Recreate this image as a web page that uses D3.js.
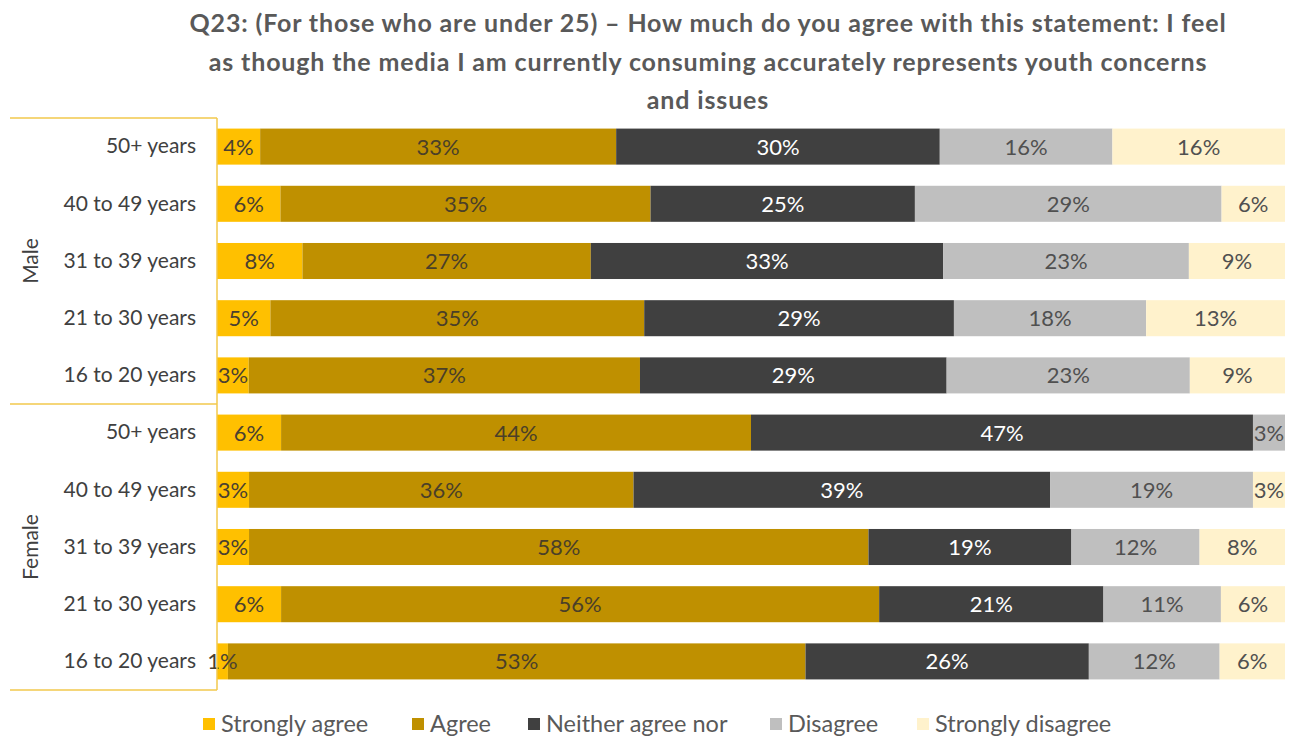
<!DOCTYPE html>
<html>
<head>
<meta charset="utf-8">
<script src="https://cdn.jsdelivr.net/npm/d3@7"></script>
<style>
  html, body { margin: 0; padding: 0; background: #fff; }
  svg { display: block; }
  text { font-family: Lato, "Open Sans", sans-serif; }
</style>
</head>
<body>
<svg id="chart" width="1293" height="740"></svg>
<script>
// Survey responses by gender and age band (percent of respondents)
const titleLines = [
  "Q23: (For those who are under 25) \u2013 How much do you agree with this statement: I feel",
  "as though the media I am currently consuming accurately represents youth concerns",
  "and issues"
];
const groups = ["Male", "Female"];
const ageBands = ["50+ years", "40 to 49 years", "31 to 39 years", "21 to 30 years", "16 to 20 years"];
const seriesNames = ["Strongly agree", "Agree", "Neither agree nor", "Disagree", "Strongly disagree"];
const seriesColors = ["#FFC000", "#BF9000", "#404040", "#BFBFBF", "#FFF2CC"];
const labelColors = ["#4a4030", "#4a3f28", "#ffffff", "#505050", "#505050"];

const stronglyAgree    = [4, 6, 8, 5, 3,   6, 3, 3, 6, 1];
const agree            = [33, 35, 27, 35, 37,   44, 36, 58, 56, 53];
const neither          = [30, 25, 33, 29, 29,   47, 39, 19, 21, 26];
const disagree         = [16, 29, 23, 18, 23,   3, 19, 12, 11, 12];
const stronglyDisagree = [16, 6, 9, 13, 9,   0, 3, 8, 6, 6];

const seriesValues = [stronglyAgree, agree, neither, disagree, stronglyDisagree];

// Build rows: one per gender/age combination
const rows = [];
groups.forEach((g, gi) => {
  ageBands.forEach((a, ai) => {
    const idx = gi * ageBands.length + ai;
    const row = { key: g + "|" + a, group: g, age: a };
    seriesNames.forEach((s, si) => { row[s] = seriesValues[si][idx]; });
    rows.push(row);
  });
});

const svg = d3.select("#chart");
const plotLeft = 217, plotRight = 1285;
const plotTop = 118, plotBottom = 690;

// 100% stacked layout
const stack = d3.stack().keys(seriesNames).offset(d3.stackOffsetExpand);
const stacked = stack(rows);

const x = d3.scaleLinear().domain([0, 1]).range([plotLeft, plotRight]);
const y = d3.scaleBand().domain(rows.map(r => r.key)).range([plotTop, plotBottom]).paddingInner(0.37).paddingOuter(0.185);
const color = d3.scaleOrdinal().domain(seriesNames).range(seriesColors);

// Title
const title = svg.append("g").attr("class", "title");
titleLines.forEach((t, i) => {
  title.append("text")
    .attr("x", 708).attr("y", 23 + i * 38.5)
    .attr("dy", "0.36em")
    .attr("text-anchor", "middle")
    .attr("fill", "#595959")
    .attr("font-size", 25)
    .attr("letter-spacing", "0.85px")
    .attr("font-weight", 700)
    .text(t);
});

// Bars
const layers = svg.append("g").selectAll("g.layer")
  .data(stacked).join("g")
  .attr("class", "layer")
  .attr("fill", d => color(d.key));

layers.selectAll("rect")
  .data(d => d.map(v => ({ v, key: d.key })))
  .join("rect")
  .attr("x", d => x(d.v[0]))
  .attr("y", d => y(d.v.data.key))
  .attr("width", d => Math.max(0, x(d.v[1]) - x(d.v[0])))
  .attr("height", y.bandwidth());

// Value labels
const labelG = svg.append("g").attr("class", "labels");
stacked.forEach((layer, si) => {
  layer.forEach(v => {
    const val = v.data[layer.key];
    if (!val) return;
    labelG.append("text")
      .attr("x", (x(v[0]) + x(v[1])) / 2)
      .attr("y", y(v.data.key) + y.bandwidth() / 2)
      .attr("dy", "0.36em")
      .attr("text-anchor", "middle")
      .attr("font-size", 22)
      .attr("fill", labelColors[si])
      .text(val + "%");
  });
});

// Category axis
const yAxis = d3.axisLeft(y).tickSize(0).tickPadding(21).tickFormat(k => k.split("|")[1]);
const axG = svg.append("g").attr("transform", `translate(${plotLeft},0)`).call(yAxis);
axG.select(".domain").remove();
axG.selectAll("text")
  .attr("font-size", 21)
  .attr("fill", "#404040")
  .attr("font-family", "Lato, sans-serif");

// Axis frame lines (gold)
const lineColor = "#F2C94C";
svg.append("line").attr("x1", plotLeft).attr("x2", plotLeft).attr("y1", plotTop).attr("y2", plotBottom)
  .attr("stroke", lineColor).attr("stroke-width", 1.5);
const groupEdges = [plotTop, y(rows[ageBands.length].key) - y.step() * y.paddingInner() / 2, plotBottom];
groupEdges.forEach(yy => {
  svg.append("line").attr("x1", 10).attr("x2", plotLeft).attr("y1", yy).attr("y2", yy)
    .attr("stroke", lineColor).attr("stroke-width", 1.5);
});

// Group labels
groups.forEach((g, gi) => {
  const cy = (groupEdges[gi] + groupEdges[gi + 1]) / 2;
  svg.append("text")
    .attr("transform", `translate(38,${cy}) rotate(-90)`)
    .attr("text-anchor", "middle")
    .attr("font-size", 21)
    .attr("fill", "#404040")
    .text(g);
});

// Legend
const legendX = [203, 412, 528, 770, 917];
const legend = svg.append("g").attr("class", "legend");
seriesNames.forEach((s, i) => {
  const g = legend.append("g").attr("transform", `translate(${legendX[i]},724)`);
  g.append("rect").attr("x", 0).attr("y", -6).attr("width", 12).attr("height", 12).attr("fill", color(s));
  g.append("text").attr("x", 18).attr("y", 0).attr("dy", "0.36em")
    .attr("font-size", 23.5).attr("fill", "#595959").text(s);
});
</script>
</body>
</html>
